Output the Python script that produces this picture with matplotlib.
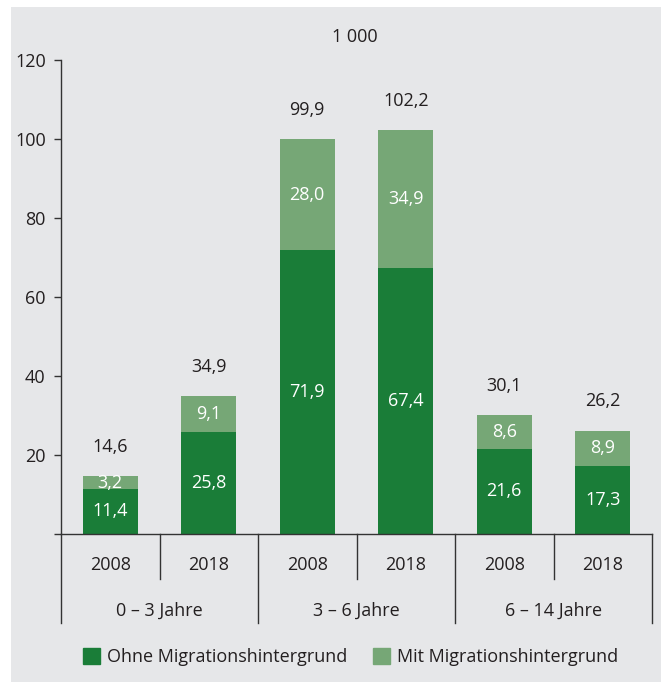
import numpy as np
import matplotlib.pyplot as plt
from matplotlib.patches import Patch, Rectangle

# data
years = ['2008', '2018', '2008', '2018', '2008', '2018']
groups = ['0 – 3 Jahre', '3 – 6 Jahre', '6 – 14 Jahre']
ohne = [11.4, 25.8, 71.9, 67.4, 21.6, 17.3]
mit = [3.2, 9.1, 28.0, 34.9, 8.6, 8.9]
totals = [14.6, 34.9, 99.9, 102.2, 30.1, 26.2]

dark = '#1a7d38'
light = '#76a776'
txt = '#231f20'
bg = '#e6e7e9'

plt.rcParams['font.family'] = ['Open Sans', 'DejaVu Sans']
fs = 13.0

def de(v):
    return ('%.1f' % v).replace('.', ',')

fig = plt.figure(figsize=(6.61, 6.82), dpi=100)
fig.patches.append(Rectangle((11/661, 0), 1, 1 - 7/682, transform=fig.transFigure,
                             facecolor=bg, edgecolor='none', zorder=-10))
ax = fig.add_axes([61/661, 1 - 534/682, (652 - 61)/661, (534 - 60)/682])
ax.patch.set_alpha(0.0)

x = np.arange(len(years))
w = 0.56
ax.bar(x, ohne, w, color=dark, zorder=2)
ax.bar(x, mit, w, bottom=ohne, color=light, zorder=2)

for i in range(len(x)):
    ax.text(x[i], ohne[i] / 2, de(ohne[i]), ha='center', va='center', color='white', fontsize=fs)
    ax.text(x[i], ohne[i] + mit[i] / 2, de(mit[i]), ha='center', va='center', color='white', fontsize=fs)
    ax.annotate(de(totals[i]), (x[i], ohne[i] + mit[i]), xytext=(0, 21), textcoords='offset points',
                ha='center', va='center', color=txt, fontsize=fs)

ax.set_xlim(-0.5, 5.5)
ax.set_ylim(0, 120)
ax.set_yticks(np.arange(0, 121, 20))
ax.set_yticklabels([''] + [str(v) for v in range(20, 121, 20)])
ax.set_xticks([])
ax.tick_params(axis='y', colors=txt, labelsize=fs, length=5, width=1, color='#333333', pad=6)
for s in ['top', 'right']:
    ax.spines[s].set_visible(False)
for s in ['left', 'bottom']:
    ax.spines[s].set_color('#333333')
    ax.spines[s].set_linewidth(1)

# separators and category labels below the axis
trans = ax.get_xaxis_transform()
px = 1 / 474  # one pixel in axes fraction (vertical)
for b in np.arange(-0.5, 6, 1):
    long = (b + 0.5) % 2 == 0
    y1 = -(623 - 534) * px if long else -(579 - 534) * px
    ax.plot([b, b], [0, y1], color='#333333', lw=1, transform=trans, clip_on=False)
for i, yr in enumerate(years):
    ax.text(x[i], -(565 - 534) * px, yr, transform=trans, ha='center', va='center', color=txt, fontsize=fs)
for j, g in enumerate(groups):
    ax.text(2 * j + 0.5, -(611 - 534) * px, g, transform=trans, ha='center', va='center', color=txt, fontsize=fs)

fig.text(355/661, 1 - 37/682, '1 000', ha='center', va='center', color=txt, fontsize=fs)

handles = [Patch(color=dark, label='Ohne Migrationshintergrund'),
           Patch(color=light, label='Mit Migrationshintergrund')]
fig.legend(handles=handles, loc='center left', bbox_to_anchor=(83/661, 1 - 657/682), ncol=2,
           frameon=False, fontsize=fs, handlelength=0.95, handleheight=0.95, handletextpad=0.4,
           columnspacing=1.4, labelcolor=txt, borderaxespad=0, borderpad=0)

fig.savefig('out.png', dpi=100)
